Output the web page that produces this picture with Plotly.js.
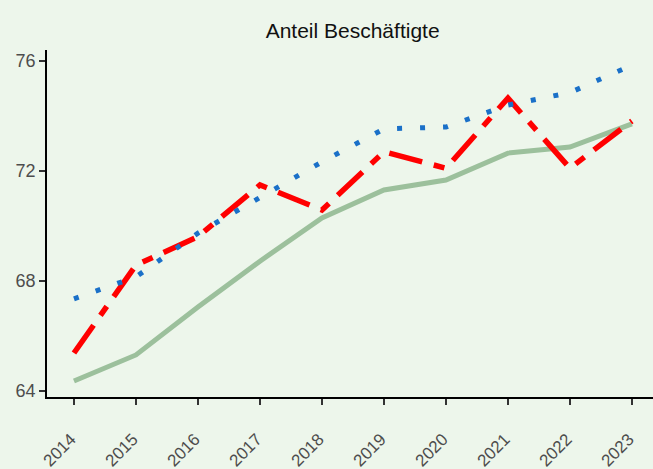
<!DOCTYPE html>
<html><head><meta charset="utf-8">
<script src="https://cdn.plot.ly/plotly-3.0.1.min.js"></script>
<style>html,body{margin:0;padding:0;background:#edf6eb;}</style>
</head><body><div id="chart" style="width:653px;height:469px;"></div>
<script>
const years = [2014, 2015, 2016, 2017, 2018, 2019, 2020, 2021, 2022, 2023];
const tickLabels = ["2014","2015","2016","2017","2018","2019","2020","2021","2022","2023"];
const greenSeries = [64.36, 65.31, 67.05, 68.72, 70.29, 71.31, 71.67, 72.65, 72.87, 73.71];
const redSeries = [65.38, 68.58, 69.61, 71.49, 70.58, 72.70, 72.10, 74.65, 72.10, 73.82];
const blueSeries = [67.35, 68.15, 69.74, 71.05, 72.33, 73.53, 73.60, 74.40, 74.85, 75.85];

const traces = [
  {x: years, y: greenSeries, type: 'scatter', mode: 'lines', line: {color: '#9cc09c', width: 5}, name: 'A'},
  {x: years, y: redSeries, type: 'scatter', mode: 'lines', line: {color: '#ff0000', width: 5.5, dash: '34px,12px,11px,12px'}, name: 'B'},
  {x: years, y: blueSeries, type: 'scatter', mode: 'lines', line: {color: '#1a70c8', width: 5, dash: '5px,18px'}, name: 'C'}
];
const layout = {
  width: 653, height: 469,
  paper_bgcolor: '#edf6eb', plot_bgcolor: '#edf6eb',
  margin: {l: 47, r: 0, t: 50, b: 72},
  showlegend: false,
  title: {text: 'Anteil Beschäftigte', x: 0.54, xanchor: 'center', y: 0.935, yanchor: 'middle', font: {family: 'Liberation Sans, Arial', size: 21, color: '#111'}},
  font: {family: 'Liberation Sans, Arial', color: '#4d4d4d'},
  xaxis: {range: [2013.565, 2023.34], tickvals: years, ticktext: tickLabels, tickangle: -45,
    showgrid: false, zeroline: false, showline: true, linecolor: '#000', linewidth: 1.5,
    ticks: 'outside', ticklen: 6, tickwidth: 2, tickcolor: '#333', ticklabelstandoff: 18, ticklabelshift: -3,
    tickfont: {size: 17, color: '#4d4d4d'}},
  yaxis: {range: [63.78, 76.4], tickvals: [64, 68, 72, 76], showgrid: false, zeroline: false,
    showline: true, linecolor: '#000', linewidth: 1.5,
    ticks: 'outside', ticklen: 6, tickwidth: 2, tickcolor: '#333', tickfont: {size: 18, color: '#4d4d4d'}}
};
Plotly.newPlot('chart', traces, layout, {displayModeBar: false});
</script></body></html>
